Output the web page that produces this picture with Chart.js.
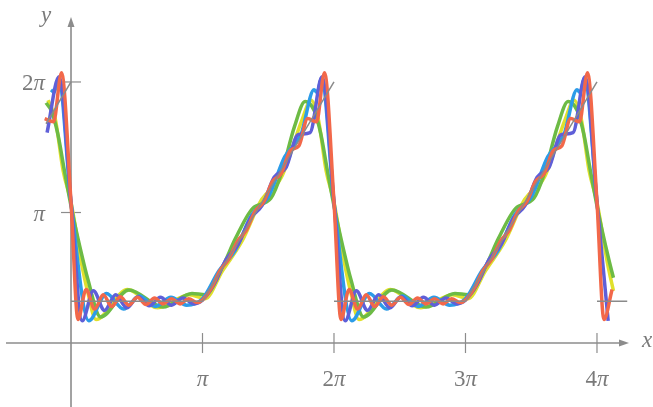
<!DOCTYPE html>
<html>
<head>
<meta charset="utf-8">
<script src="https://cdn.jsdelivr.net/npm/chart.js@4.4.0/dist/chart.umd.min.js"></script>
<style>
  html, body { margin: 0; padding: 0; background: #fff; }
  #wrap { width: 653px; height: 407px; position: relative; }
</style>
</head>
<body>
<div id="wrap"><canvas id="grafico"></canvas></div>
<script>
// x e y en múltiplos de pi. Un periodo [0,2) de cada suma parcial
const tRojo = [0, 0.053, 0.115, 0.18, 0.245, 0.31, 0.375, 0.44, 0.505, 0.57, 0.635, 0.70, 0.765, 0.83, 0.895, 0.96, 1.0, 1.067, 1.133, 1.2, 1.267, 1.333, 1.4, 1.467, 1.533, 1.6, 1.667, 1.733, 1.8, 1.867, 1.928];
const yRojo = [1.08, 0.18, 0.41, 0.26, 0.37, 0.28, 0.355, 0.29, 0.35, 0.295, 0.345, 0.30, 0.34, 0.30, 0.34, 0.31, 0.33, 0.42, 0.556, 0.643, 0.783, 0.864, 1.01, 1.084, 1.24, 1.30, 1.474, 1.51, 1.72, 1.695, 2.07];

const tAzul = [0, 0.085, 0.17, 0.255, 0.34, 0.425, 0.51, 0.595, 0.68, 0.765, 0.85, 0.935, 1.0, 1.091, 1.182, 1.273, 1.364, 1.455, 1.545, 1.636, 1.727, 1.818, 1.909];
const yAzul = [1.08, 0.17, 0.40, 0.25, 0.37, 0.27, 0.355, 0.285, 0.35, 0.29, 0.345, 0.30, 0.33, 0.456, 0.645, 0.758, 0.956, 1.056, 1.27, 1.346, 1.597, 1.612, 2.04];

const tCeleste = [0, 0.135, 0.27, 0.40, 0.52, 0.64, 0.76, 0.88, 1.0, 1.125, 1.25, 1.375, 1.5, 1.625, 1.75, 1.848, 1.872, 1.905];
const yCeleste = [1.08, 0.17, 0.38, 0.26, 0.36, 0.28, 0.35, 0.29, 0.34, 0.554, 0.712, 0.984, 1.118, 1.426, 1.60, 1.94, 1.92, 2.03];

const tAmarillo = [0, 0.08, 0.125, 0.19, 0.43, 0.66, 0.90, 1.02, 1.15, 1.30, 1.45, 1.60, 1.757, 1.825, 1.88, 1.94];
const yAmarillo = [1.08, 0.61, 0.40, 0.18, 0.41, 0.27, 0.37, 0.34, 0.55, 0.78, 1.10, 1.27, 1.71, 1.86, 1.72, 1.32];

const tVerde = [0, 0.09, 0.125, 0.225, 0.44, 0.70, 0.92, 1.02, 1.15, 1.25, 1.38, 1.52, 1.60, 1.70, 1.78, 1.81, 1.85, 1.90, 1.95];
const yVerde = [1.05, 0.64, 0.50, 0.20, 0.406, 0.276, 0.38, 0.37, 0.58, 0.80, 1.03, 1.11, 1.30, 1.66, 1.85, 1.84, 1.78, 1.60, 1.32];

// la función original (gris), null = salto sin trazo vertical
const fnX = [-0.19, 0, 0, 0, 1, 2, 2, 2, 3, 4, 4, 4, 4.23];
const fnY = [1.68, 2, null, 0.32, 0.32, 2, null, 0.32, 0.32, 2, null, 0.32, 0.32];

const xTicks = [1, 2, 3, 4];
const xTickLabels = ['π', '2π', '3π', '4π'];
const yTicks = [1, 2];
const yTickLabels = ['π', '2π'];

function repetir(ts, ys) {
  const pts = [];
  for (let k = -1; k <= 2; k++) {
    ts.forEach((t, i) => {
      const x = t + 2 * k;
      if (x >= -0.2 && x <= 4.13) pts.push({ x: x, y: ys[i] });
    });
  }
  return pts;
}

function etiqueta(ctx, txt, px, py, align) {
  const num = txt.slice(0, -1);
  ctx.font = '23px "Liberation Serif"';
  const wn = ctx.measureText(num).width;
  ctx.font = 'italic 23px "Liberation Serif"';
  const wp = ctx.measureText('π').width;
  const start = align === 'right' ? px - wn - wp : px - (wn + wp) / 2;
  ctx.textAlign = 'left';
  ctx.textBaseline = 'alphabetic';
  ctx.font = '23px "Liberation Serif"';
  ctx.fillText(num, start, py);
  ctx.font = 'italic 23px "Liberation Serif"';
  ctx.fillText('π', start + wn, py);
}

const ejes = {
  id: 'ejes',
  beforeDatasetsDraw(chart) {
    const { ctx, scales: { x, y } } = chart;
    const x0 = x.getPixelForValue(0), y0 = y.getPixelForValue(0);
    ctx.save();
    ctx.strokeStyle = '#8c8c8c';
    ctx.fillStyle = '#8c8c8c';
    ctx.lineWidth = 1.6;
    // eje x
    ctx.beginPath(); ctx.moveTo(6, y0); ctx.lineTo(622, y0); ctx.stroke();
    ctx.beginPath(); ctx.moveTo(629, y0); ctx.lineTo(619, y0 - 3.5); ctx.lineTo(619, y0 + 3.5); ctx.closePath(); ctx.fill();
    // eje y
    ctx.beginPath(); ctx.moveTo(x0, 407); ctx.lineTo(x0, 25); ctx.stroke();
    ctx.beginPath(); ctx.moveTo(x0, 17); ctx.lineTo(x0 - 3.5, 27); ctx.lineTo(x0 + 3.5, 27); ctx.closePath(); ctx.fill();
    // marcas
    ctx.lineWidth = 1.2;
    xTicks.forEach(v => {
      const p = x.getPixelForValue(v);
      ctx.beginPath(); ctx.moveTo(p, y0 - 10); ctx.lineTo(p, y0 + 10); ctx.stroke();
    });
    yTicks.forEach(v => {
      const p = y.getPixelForValue(v);
      ctx.beginPath(); ctx.moveTo(x0 - 10, p); ctx.lineTo(x0 + 10, p); ctx.stroke();
    });
    ctx.fillStyle = '#7a7a7a';
    xTicks.forEach((v, i) => etiqueta(ctx, xTickLabels[i], x.getPixelForValue(v), 386, 'center'));
    yTicks.forEach((v, i) => etiqueta(ctx, yTickLabels[i], 45, y.getPixelForValue(v) + 8, 'right'));
    ctx.font = 'italic 23px "Liberation Serif"';
    ctx.textAlign = 'center';
    ctx.textBaseline = 'middle';
    ctx.fillText('y', 46, 16);
    ctx.textAlign = 'left';
    ctx.fillText('x', 642, y0 - 2);
    ctx.restore();
  }
};

const serie = (pts, color) => ({
  data: pts,
  borderColor: color,
  borderWidth: 3.5,
  cubicInterpolationMode: 'monotone',
  pointRadius: 0,
  fill: false
});

const funcion = fnX.map((v, i) => ({ x: v, y: fnY[i] }));

new Chart(document.getElementById('grafico'), {
  type: 'line',
  data: {
    datasets: [
      { data: funcion, borderColor: '#8a8a8a', borderWidth: 1.5, tension: 0, pointRadius: 0, spanGaps: false, fill: false },
      serie(repetir(tRojo, yRojo), '#f2684a'),
      serie(repetir(tAzul, yAzul), '#5f5fd8'),
      serie(repetir(tCeleste, yCeleste), '#2c9ce8'),
      serie(repetir(tVerde, yVerde), '#6dbb45'),
      serie(repetir(tAmarillo, yAmarillo), '#e0e02c')
    ]
  },
  options: {
    responsive: true,
    maintainAspectRatio: false,
    animation: false,
    layout: { padding: 0 },
    plugins: { legend: { display: false }, tooltip: { enabled: false } },
    scales: {
      x: { type: 'linear', min: -0.54, max: 4.426, display: false },
      y: { min: -0.49, max: 2.628, display: false }
    }
  },
  plugins: [ejes]
});
</script>
</body>
</html>
